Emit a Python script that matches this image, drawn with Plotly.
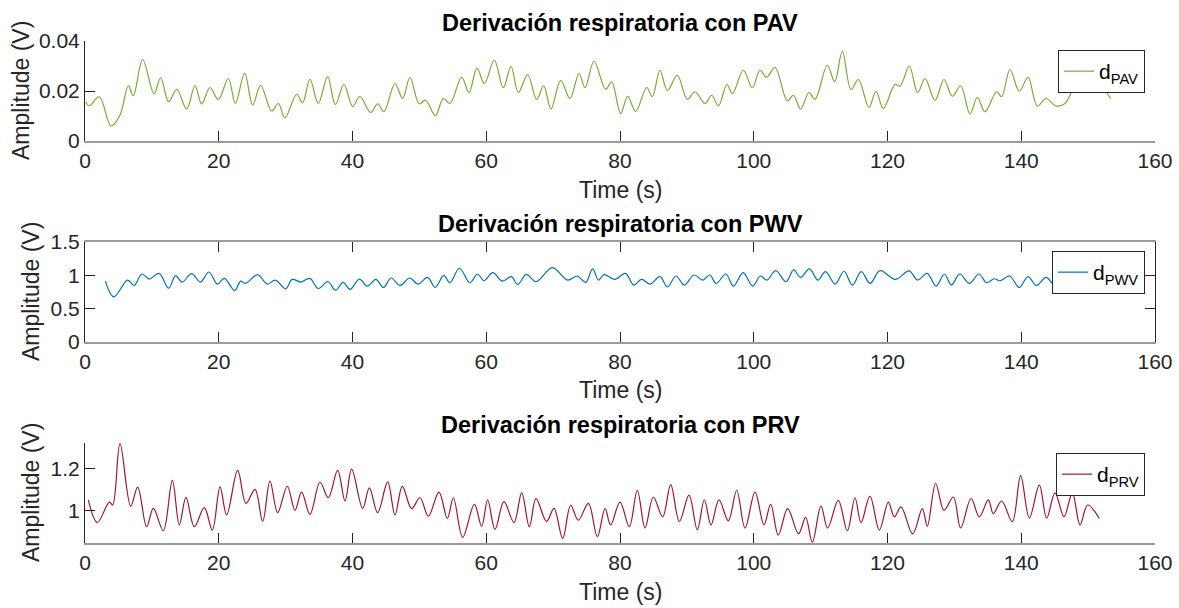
import plotly.graph_objects as go

W, H = 1179, 608

# ---------------- data ----------------
t_pav = [0.1, 0.65, 2.14, 3.89, 5.23, 6.48, 7.22, 8.62, 10.32, 11.31,
         12.51, 13.71, 15.20, 16.45, 17.44, 18.69, 19.93, 21.43, 22.48, 23.87,
         25.07, 26.26, 27.91, 28.91, 29.90, 31.65, 32.54, 33.64, 34.88, 36.28,
         37.43, 38.72, 40.02, 41.11, 42.71, 43.76, 44.70, 46.35, 47.49, 48.59,
         49.98, 50.93, 52.38, 53.58, 54.58, 56.32, 57.42, 58.62, 59.71, 61.21,
         62.55, 63.70, 64.80, 66.19, 67.54, 68.58, 69.68, 71.13, 72.52, 73.87,
         74.77, 76.11, 77.86, 78.75, 80.10, 81.15, 82.34, 83.99, 84.83, 85.98,
         87.08, 88.57, 90.07, 91.21, 92.71, 93.71, 94.71, 96.0, 96.80, 98.44,
         99.79, 100.93, 101.93, 103.18, 105.02, 105.92, 107.01, 108.26, 109.16, 111.0,
         112.10, 113.24, 114.54, 115.64, 117.23, 118.28, 119.37, 121.12, 121.87, 123.26,
         124.51, 125.61, 127.1, 128.45, 129.69, 130.94, 132.33, 133.43, 134.58, 136.32,
         137.07, 138.31, 139.71, 141.01, 142.40, 143.70, 145.19, 146.54, 148.0, 150.0,
         152.0, 153.37]
d_pav = [0.0157, 0.0141, 0.0177, 0.0060, 0.0104, 0.0221, 0.0181, 0.0326, 0.0189, 0.0253,
         0.0157, 0.0207, 0.0128, 0.0221, 0.0148, 0.0214, 0.0166, 0.0250, 0.0150, 0.0271,
         0.0144, 0.0223, 0.0120, 0.0150, 0.0093, 0.0187, 0.0153, 0.0247, 0.0150, 0.0258,
         0.0146, 0.0226, 0.0138, 0.0178, 0.0114, 0.0149, 0.0117, 0.0230, 0.0170, 0.0254,
         0.0149, 0.0163, 0.0101, 0.0170, 0.0150, 0.0255, 0.0194, 0.0292, 0.0230, 0.0323,
         0.0213, 0.0298, 0.0194, 0.0266, 0.0166, 0.0221, 0.0128, 0.0242, 0.0170, 0.0270,
         0.0213, 0.0319, 0.0207, 0.0237, 0.0110, 0.0179, 0.0118, 0.0214, 0.0177, 0.0283,
         0.0202, 0.0263, 0.0166, 0.0197, 0.0150, 0.0183, 0.0141, 0.0226, 0.0189, 0.0283,
         0.0213, 0.0283, 0.0255, 0.0294, 0.0160, 0.0183, 0.0128, 0.0194, 0.0167, 0.0303,
         0.0237, 0.0359, 0.0206, 0.0246, 0.0134, 0.0199, 0.0130, 0.0226, 0.0219, 0.0299,
         0.0193, 0.0250, 0.0163, 0.0246, 0.0179, 0.0221, 0.0108, 0.0174, 0.0117, 0.0197,
         0.0177, 0.0286, 0.0199, 0.0255, 0.0140, 0.0170, 0.0140, 0.0150, 0.0223, 0.0290,
         0.0223, 0.0170]

t_pwv = [3.04, 4.30, 6.37, 7.34, 8.49, 9.64, 11.07, 12.51, 13.54, 14.52,
         15.95, 17.27, 18.53, 19.79, 20.83, 22.38, 23.29, 23.98, 25.82, 27.25,
         28.46, 30.0, 30.98, 32.30, 33.62, 34.88, 36.32, 37.46, 38.61, 39.64,
         41.02, 42.23, 43.49, 44.64, 45.78, 47.1, 48.54, 49.80, 51.23, 52.38,
         53.64, 54.56, 56.0, 57.54, 58.69, 59.66, 60.98, 62.42, 63.74, 64.71,
         65.98, 67.47, 69.88, 72.17, 73.61, 74.87, 75.9, 76.79, 77.59, 79.2,
         80.80, 82.06, 83.21, 84.53, 85.96, 87.11, 88.37, 89.63, 91.07, 92.39,
         93.42, 94.39, 95.83, 96.97, 98.41, 99.84, 100.99, 101.96, 103.28, 104.83,
         105.97, 107.0, 108.33, 109.59, 110.73, 112.17, 113.49, 114.75, 116.07, 117.39,
         118.88, 121.17, 123.23, 124.5, 125.93, 127.25, 128.51, 129.54, 130.80, 132.24,
         133.67, 134.82, 135.96, 136.82, 138.26, 139.7, 141.01, 142.27, 143.71, 145.0,
         146.3, 147.6, 149.0, 150.3]
d_pwv = [0.914, 0.677, 0.929, 0.848, 1.020, 0.944, 1.030, 0.808, 0.995, 0.899,
         1.025, 0.899, 1.050, 0.869, 0.955, 0.773, 0.914, 0.879, 1.010, 0.869,
         0.929, 0.798, 0.939, 0.899, 0.955, 0.803, 0.904, 0.778, 0.894, 0.788,
         0.944, 0.838, 0.939, 0.818, 0.960, 0.848, 0.960, 0.869, 0.970, 0.818,
         1.000, 0.889, 1.106, 0.889, 1.020, 0.919, 1.040, 0.914, 0.980, 0.864,
         1.015, 0.904, 1.116, 0.929, 0.990, 0.894, 1.096, 0.929, 1.010, 0.939,
         1.030, 0.854, 0.939, 0.869, 0.980, 0.828, 0.990, 0.854, 1.005, 0.929,
         1.005, 0.879, 1.020, 0.838, 1.040, 0.838, 0.990, 0.929, 1.071, 0.904,
         1.081, 0.970, 1.096, 0.929, 1.056, 0.869, 1.061, 0.854, 1.056, 0.879,
         1.071, 0.939, 1.066, 0.929, 1.030, 0.838, 1.020, 0.854, 1.020, 0.879,
         1.020, 0.889, 0.949, 0.919, 0.990, 0.818, 0.980, 0.848, 0.970, 0.860,
         0.990, 0.870, 1.000, 0.900]

t_prv = [0.50, 1.84, 3.64, 4.14, 5.23, 6.83, 7.88, 9.22, 10.22, 11.71,
         13.06, 14.10, 15.10, 16.35, 17.84, 19.04, 20.19, 21.18, 22.83, 24.07,
         25.42, 26.57, 27.66, 28.81, 30.25, 31.40, 32.39, 33.64, 35.14, 36.38,
         37.78, 38.88, 39.87, 41.52, 42.52, 43.76, 45.26, 46.35, 47.45, 48.84,
         50.09, 51.34, 52.93, 54.18, 55.08, 56.47, 58.22, 59.31, 60.21, 61.31,
         62.65, 64.15, 65.30, 66.44, 67.44, 69.03, 70.13, 71.43, 72.62, 73.77,
         75.27, 76.61, 77.76, 78.60, 80.0, 81.39, 82.59, 83.74, 84.98, 86.38,
         87.58, 88.87, 90.32, 91.56, 92.61, 93.61, 94.80, 96.20, 97.45, 98.69,
         100.19, 101.53, 102.53, 103.67, 105.07, 106.7, 107.76, 108.76, 110.05, 111.05,
         112.64, 113.99, 115.14, 116.04, 117.38, 118.78, 120.13, 121.02, 122.02, 123.76,
         125.21, 125.95, 127.20, 128.45, 129.84, 130.94, 132.49, 133.73, 135.08, 135.82,
         137.07, 138.66, 139.91, 141.21, 142.70, 143.80, 145.05, 146.39, 147.64, 148.79,
         149.93, 151.68]
d_prv = [1.052, 0.945, 1.042, 1.028, 1.320, 1.023, 1.1125, 0.925, 1.0125, 0.906,
         1.145, 0.934, 1.064, 0.925, 1.016, 0.909, 1.114, 0.981, 1.192, 1.036,
         1.102, 0.950, 1.141, 0.992, 1.117, 1.003, 1.089, 0.984, 1.136, 1.0625,
         1.192, 1.047, 1.198, 1.0125, 1.109, 0.992, 1.1375, 0.981, 1.116, 1.011,
         1.0625, 0.975, 1.089, 0.964, 1.0625, 0.875, 1.031, 0.927, 1.052, 0.9125,
         1.044, 0.945, 1.086, 0.925, 1.058, 0.950, 1.0125, 0.870, 1.027, 0.956,
         1.036, 0.878, 1.011, 0.934, 1.042, 0.925, 1.098, 0.919, 1.066, 0.972,
         1.125, 0.950, 1.075, 0.911, 1.053, 0.934, 1.052, 0.953, 1.098, 0.919,
         1.089, 0.934, 1.031, 0.886, 1.011, 0.892, 0.969, 0.852, 1.023, 0.919,
         1.050, 0.906, 1.0625, 0.945, 1.070, 0.909, 1.042, 0.972, 1.019, 0.891,
         1.011, 0.927, 1.130, 1.003, 1.066, 0.919, 1.059, 0.972, 1.052, 0.9875,
         1.047, 0.948, 1.167, 0.966, 1.122, 0.966, 1.086, 0.973, 1.086, 0.934,
         1.028, 0.964]

x_ticks = [0, 20, 40, 60, 80, 100, 120, 140, 160]
titles = ["Derivación respiratoria con PAV",
          "Derivación respiratoria con PWV",
          "Derivación respiratoria con PRV"]
names = ["d<sub>PAV</sub>", "d<sub>PWV</sub>", "d<sub>PRV</sub>"]
colors = ["#77AC30", "#0072BD", "#A2142F"]
y_ranges = [[0, 0.04], [0, 1.5], [0.848, 1.322]]
y_tickvals = [[0, 0.02, 0.04], [0, 0.5, 1, 1.5], [1, 1.2]]
y_ticktext = [["0", "0.02", "0.04"], ["0", "0.5", "1", "1.5"], ["1", "1.2"]]

assert len(t_pav) == len(d_pav) and len(t_pwv) == len(d_pwv) and len(t_prv) == len(d_prv)

# ---------------- layout geometry (pixels) ----------------
FONT = "Liberation Sans, Arial, Helvetica, sans-serif"
AX = "#262626"
x0, x1 = 85, 1155
plot_tops = [41, 242, 443]
plot_h = 100
title_y = [23, 224, 425]
xlabel_y = [190, 390, 592]
ylabel_x = [21, 31, 31]
legend_top = [50, 251, 453]
legend_right = 1145

def px(x):
    return x / W

def py(y):
    return 1 - y / H

series = [(t_pav, d_pav), (t_pwv, d_pwv), (t_prv, d_prv)]

fig = go.Figure()
annotations = []
layout = dict(
    width=W, height=H,
    margin=dict(l=0, r=0, t=0, b=0, pad=0),
    paper_bgcolor="white", plot_bgcolor="white",
    font=dict(family=FONT, color=AX, size=21),
    showlegend=True,
)

for i in range(3):
    sfx = "" if i == 0 else str(i + 1)
    leg = "legend" + sfx
    t, v = series[i]
    fig.add_trace(go.Scatter(
        x=t, y=v, mode="lines", name=names[i],
        line=dict(color=colors[i], width=1.2, shape="spline", smoothing=1.0),
        xaxis="x" + sfx, yaxis="y" + sfx, legend=leg,
        hoverinfo="skip",
    ))
    top = plot_tops[i]
    bot = top + plot_h
    boxed = (i == 1)
    layout["xaxis" + sfx] = dict(
        domain=[px(x0), px(x1)], anchor="y" + sfx,
        range=[0, 160], tickmode="array", tickvals=x_ticks,
        ticktext=[str(v) for v in x_ticks],
        ticks="inside", ticklen=10, tickwidth=1, tickcolor=AX,
        showline=True, linecolor="#9a9a9a", linewidth=1.5,
        mirror="ticks" if boxed else False,
        showgrid=False, zeroline=False, automargin=False,
        tickfont=dict(family=FONT, size=21, color=AX),
    )
    layout["yaxis" + sfx] = dict(
        domain=[py(bot), py(top)], anchor="x" + sfx,
        range=y_ranges[i], tickmode="array", tickvals=y_tickvals[i],
        ticktext=y_ticktext[i],
        ticks="inside", ticklen=10, tickwidth=1, tickcolor=AX,
        showline=True, linecolor=AX, linewidth=1,
        mirror="ticks" if boxed else False,
        showgrid=False, zeroline=False, automargin=False,
        tickfont=dict(family=FONT, size=21, color=AX),
    )
    layout[leg] = dict(
        x=px(legend_right), y=py(legend_top[i]), xanchor="right", yanchor="top",
        xref="paper", yref="paper",
        bgcolor="white", bordercolor=AX, borderwidth=1,
        font=dict(family=FONT, size=21, color="black"),
        itemwidth=30,
    )
    annotations.append(dict(
        text="<b>" + titles[i] + "</b>", x=px((x0 + x1) / 2), y=py(title_y[i]),
        xref="paper", yref="paper", xanchor="center", yanchor="middle",
        showarrow=False, font=dict(family=FONT, size=23.5, color="black"),
    ))
    annotations.append(dict(
        text="Time (s)", x=px((x0 + x1) / 2), y=py(xlabel_y[i]),
        xref="paper", yref="paper", xanchor="center", yanchor="middle",
        showarrow=False, font=dict(family=FONT, size=23, color=AX),
    ))
    annotations.append(dict(
        text="Amplitude (V)", x=px(ylabel_x[i]), y=py(top + plot_h / 2),
        xref="paper", yref="paper", xanchor="center", yanchor="middle",
        textangle=-90,
        showarrow=False, font=dict(family=FONT, size=23, color=AX),
    ))

layout["annotations"] = annotations
fig.update_layout(**layout)
fig.write_html("out.html")
